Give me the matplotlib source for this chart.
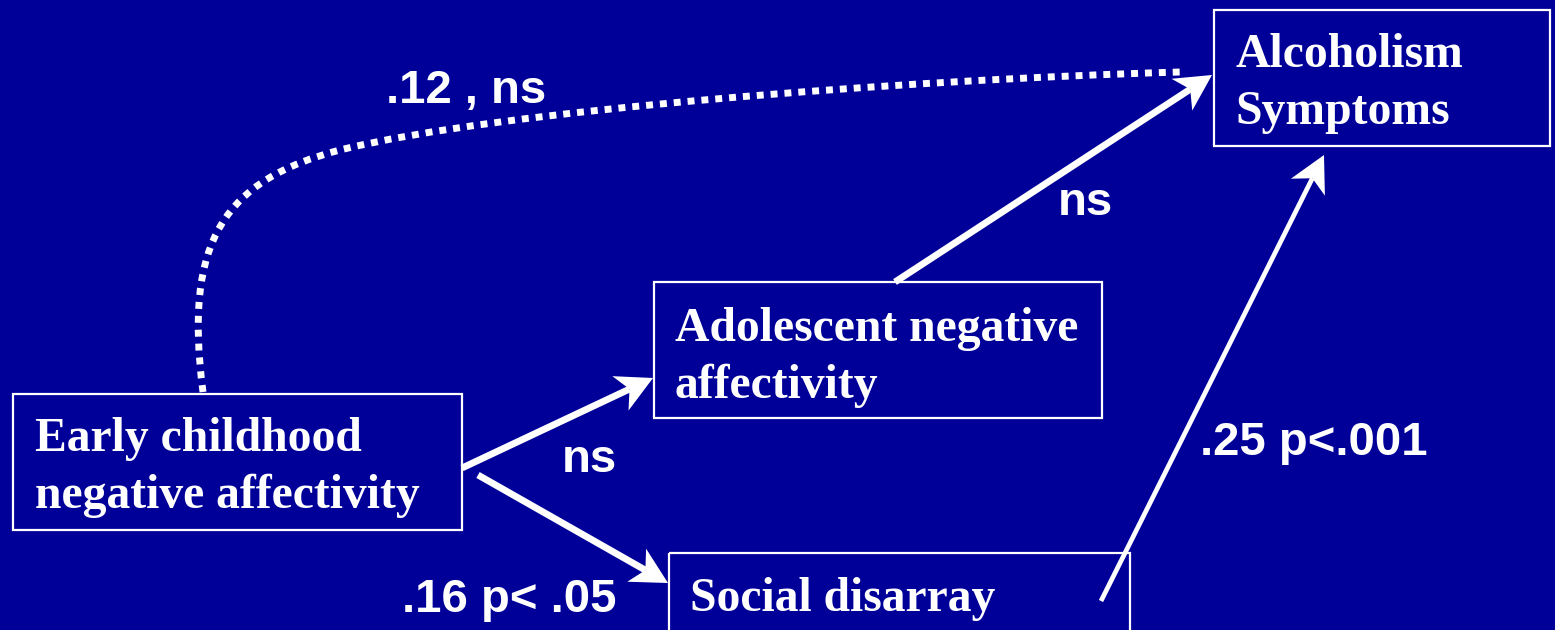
import numpy as np
import matplotlib.pyplot as plt
from matplotlib.patches import Rectangle, Polygon, PathPatch
from matplotlib.path import Path

# node texts -------------------------------------------------------
nodes = [['Early childhood', 'negative affectivity'],
         ['Adolescent negative', 'affectivity'],
         ['Social disarray'],
         ['Alcoholism', 'Symptoms']]
# path coefficients ----------------------------------------------
paths = ['.12 , ns', 'ns', '.16 p< .05', 'ns', '.25 p<.001']

BG = '#000099'
W, H = 1555, 630

# layout in pixel units (x0, y0, x1, y1), y downwards
boxes = [(13, 394, 462, 530), (654, 282, 1102, 418),
         (669, 553, 1130, 640), (1214, 10, 1550, 146)]
text_pos = [(35, 451), (675, 341), (690, 611), (1235, 67)]
line_gap = 57
label_pos = [(466, 103), (589, 472), (509, 612), (1085, 215), (1314, 455)]

fig = plt.figure(figsize=(W / 100, H / 100), dpi=100, facecolor=BG)
ax = fig.add_axes([0, 0, 1, 1])
ax.set_xlim(0, W)
ax.set_ylim(H, 0)
ax.axis('off')
ax.set_facecolor(BG)

for (x0, y0, x1, y1), lines, (tx, ty) in zip(boxes, nodes, text_pos):
    ax.add_patch(Rectangle((x0, y0), x1 - x0, y1 - y0, fill=False,
                           ec='white', lw=1.6))
    for i, line in enumerate(lines):
        ax.text(tx, ty + i * line_gap, line, color='white', fontsize=34.3,
                fontweight='bold', family='Liberation Serif',
                va='baseline', ha='left')


def arrow(p0, p1, lw, hl=36, hw=19, notch=10):
    p0, p1 = np.array(p0, float), np.array(p1, float)
    d = (p1 - p0) / np.linalg.norm(p1 - p0)
    n = np.array([-d[1], d[0]])
    base = p1 - d * hl
    inner = p1 - d * (hl - notch)
    ax.plot([p0[0], inner[0]], [p0[1], inner[1]],
            color='white', lw=lw, solid_capstyle='butt')
    head = [p1, base + n * hw, inner, base - n * hw]
    ax.add_patch(Polygon(head, closed=True, fc='white', ec='none'))


arrow((462, 468), (653, 378), 4.9)
arrow((478, 475), (668, 583), 4.9)
arrow((895, 282), (1212, 75), 4.9)
arrow((1101, 601), (1324, 155), 3.4)

# dotted direct path
curve = Path([(203, 392), (183, 240), (225, 180), (340, 150),
              (500, 110), (900, 80), (1180, 72)],
             [Path.MOVETO, Path.CURVE4, Path.CURVE4, Path.CURVE4,
              Path.CURVE4, Path.CURVE4, Path.CURVE4])
ax.add_patch(PathPatch(curve, fill=False, ec='white', lw=5,
                       linestyle=(0, (1, 1)), capstyle='butt'))

for txt, (lx, ly) in zip(paths, label_pos):
    ax.text(lx, ly, txt, color='white', fontsize=34, fontweight='bold',
            family='Liberation Sans', ha='center', va='baseline')

fig.savefig('out.png', dpi=100, facecolor=BG)
